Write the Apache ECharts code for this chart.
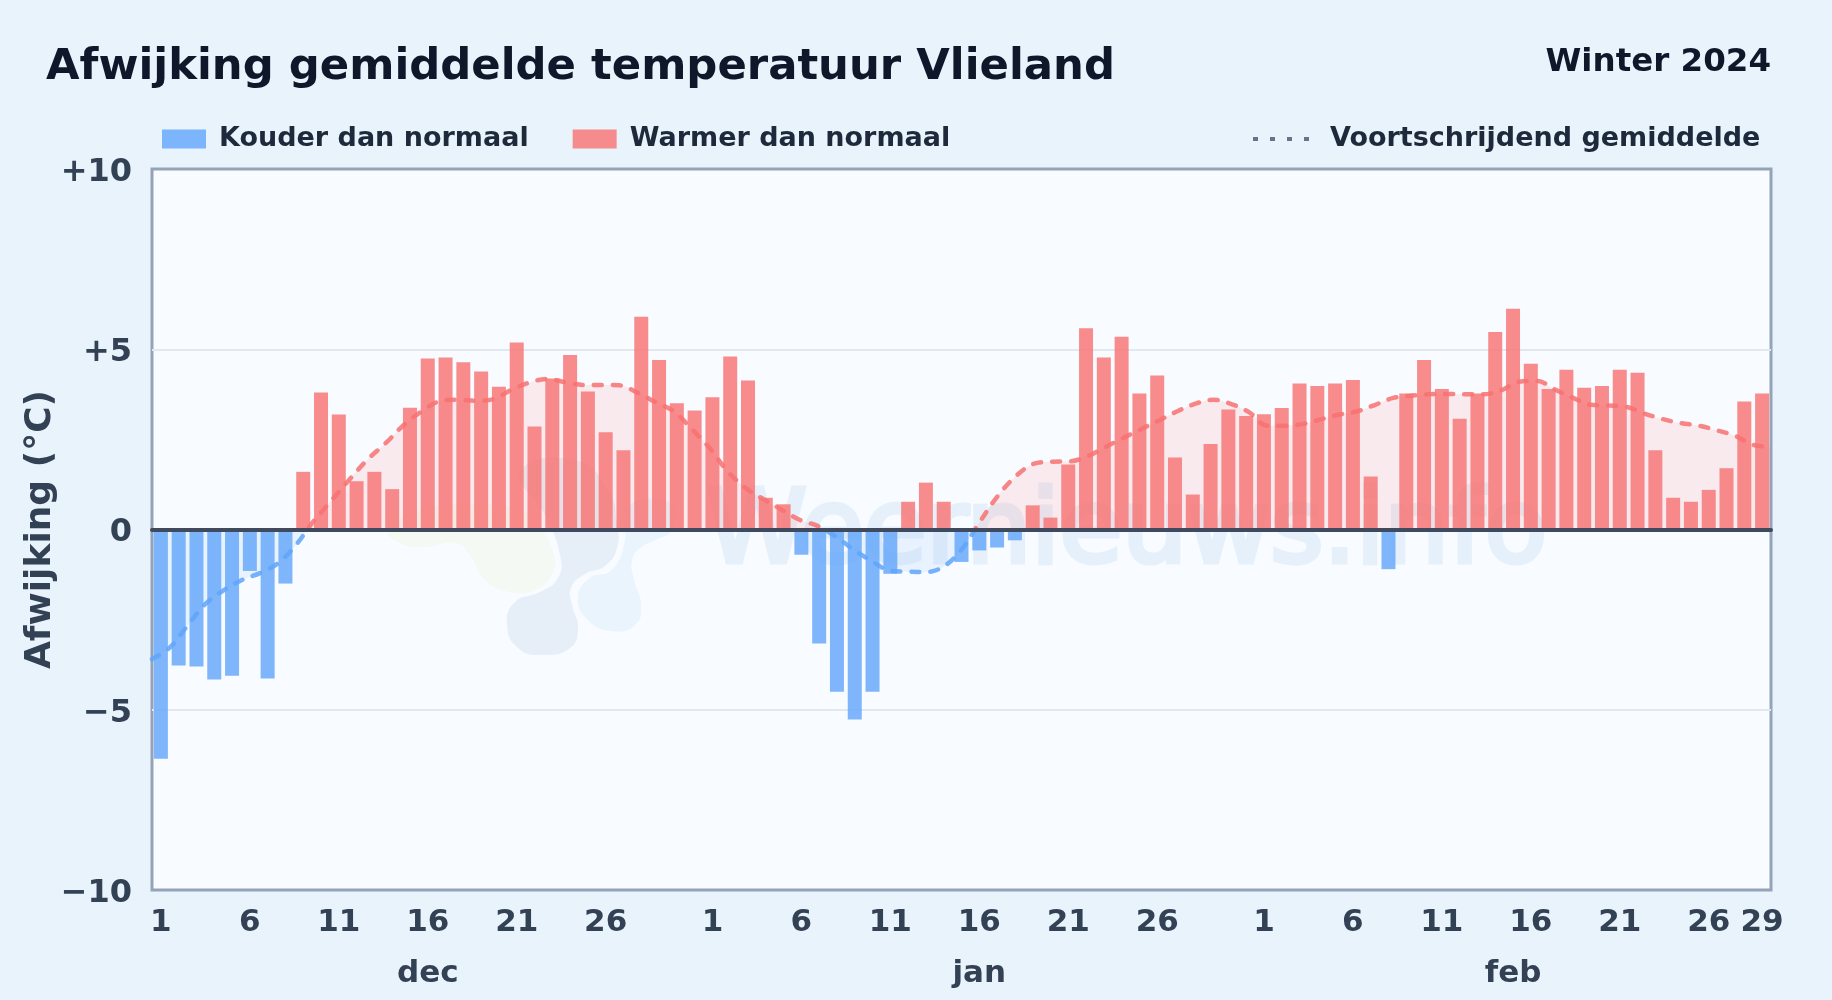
<!DOCTYPE html>
<html>
<head>
<meta charset="utf-8">
<style>html,body{margin:0;padding:0;background:#e9f3fc}#c{width:1832px;height:1000px}</style>
<script src="https://cdn.jsdelivr.net/npm/echarts@6/dist/echarts.min.js"></script>
</head>
<body>
<div id="c"></div>
<script>
const dayLabels = [];
[31, 31, 29].forEach(n => { for (let d = 1; d <= n; d++) dayLabels.push(String(d)); });
const monthAt = { 15: 'dec', 46: 'jan', 76: 'feb' };
const monthLabels = dayLabels.map((_, i) => monthAt[i] || '');

const anomaly = [
  -6.36,-3.77,-3.8,-4.16,-4.06,-1.15,-4.13,-1.5,1.6,3.8,3.19,1.34,1.6,1.12,3.38,4.74,4.77,4.64,4.38,3.96,5.19,2.86,4.19,4.84,3.83,2.7,2.2,5.9,4.7,3.5,3.3,
  3.67,4.8,4.13,0.88,0.7,-0.7,-3.16,-4.5,-5.27,-4.5,-1.23,0.77,1.3,0.77,-0.9,-0.58,-0.5,-0.3,0.67,0.33,1.8,5.58,4.77,5.35,3.77,4.27,2,0.97,2.37,3.33,3.15,
  3.2,3.37,4.05,3.98,4.05,4.15,1.47,-1.1,3.77,4.7,3.9,3.07,3.77,5.48,6.12,4.6,3.9,4.43,3.93,3.98,4.43,4.35,2.2,0.88,0.77,1.1,1.7,3.55,3.77
];
const movingAverage = [
  -3.6,-3.27,-2.65,-2.05,-1.68,-1.4,-1.21,-0.94,-0.43,0.24,0.82,1.4,1.95,2.4,2.9,3.28,3.56,3.6,3.57,3.62,3.88,4.08,4.18,4.08,
  4.01,4.01,4.0,3.79,3.53,3.28,2.79,2.26,1.61,1.15,0.84,0.55,0.27,0.1,-0.19,-0.56,-0.87,-1.14,-1.17,-1.18,-1.03,-0.56,0.2,
  0.92,1.47,1.82,1.88,1.89,2.03,2.29,2.54,2.79,3.03,3.28,3.49,3.6,3.48,3.25,2.88,2.88,2.93,3.06,3.19,3.28,3.46,
  3.65,3.71,3.75,3.76,3.75,3.75,3.86,4.1,4.12,3.88,3.65,3.46,3.44,3.4,3.21,3.06,2.95,2.88,2.75,2.6,2.35,2.29
];
const coldValues = anomaly.map(v => v < 0 ? v : null);
const warmValues = anomaly.map(v => v >= 0 ? v : null);
const yTicks = { '10': '+10', '5': '+5', '0': '0', '-5': '\u22125', '-10': '\u221210' };

const FONT = '"DejaVu Sans"';
const dotsIcon = 'path://M0 0h5v4H0zM17 0h5v4H17zM34 0h5v4H34zM51 0h5v4H51z';
const legendText = { fontFamily: FONT, fontWeight: 'bold', fontSize: 27, color: '#1e293b' };

const splitFill = (warm, cold) => ({
  type: 'linear', global: true, x: 0, y: 169, x2: 0, y2: 890,
  colorStops: [{ offset: 0, color: warm }, { offset: 0.5, color: warm }, { offset: 0.5, color: cold }, { offset: 1, color: cold }]
});

const chart = echarts.init(document.getElementById('c'), null, { renderer: 'canvas' });
chart.setOption({
  animation: false,
  backgroundColor: '#e9f3fc',
  title: [
    { text: 'Afwijking gemiddelde temperatuur Vlieland', left: 41, top: 41,
      textStyle: { fontFamily: FONT, fontWeight: 'bold', fontSize: 43.35, color: '#0f172a' } },
    { text: 'Winter 2024', right: 56, top: 41,
      textStyle: { fontFamily: FONT, fontWeight: 'bold', fontSize: 32.5, color: '#0f172a' } }
  ],
  legend: [
    { left: 157, top: 120.5, itemWidth: 44, itemHeight: 19, itemGap: 44, selectedMode: false,
      textStyle: Object.assign({ padding: [0, 0, 0, 8] }, legendText),
      data: [{ name: 'Kouder dan normaal', icon: 'rect' }, { name: 'Warmer dan normaal', icon: 'rect' }] },
    { left: 1248, top: 120.5, itemWidth: 56, itemHeight: 4, selectedMode: false,
      textStyle: Object.assign({ padding: [0, 0, 0, 16] }, legendText),
      data: [{ name: 'Voortschrijdend gemiddelde', icon: dotsIcon, itemStyle: { color: '#64748b', opacity: 1 } }] }
  ],
  grid: { left: 152, right: 61, top: 169, bottom: 110, show: true, backgroundColor: '#f8fbff', borderColor: '#94a3b8', borderWidth: 3 },
  xAxis: [
    { type: 'category', data: dayLabels, boundaryGap: true, position: 'bottom',
      axisLine: { show: false, onZero: false }, axisTick: { show: false }, splitLine: { show: false },
      axisLabel: { interval: (i, v) => i === dayLabels.length - 1 || ((+v - 1) % 5 === 0 && +v <= 26),
        margin: 17, fontFamily: FONT, fontWeight: 'bold', fontSize: 31, color: '#334155' } },
    { type: 'category', data: dayLabels, boundaryGap: false, z: 8,
      axisLine: { show: true, onZero: true, lineStyle: { color: '#3f4a5e', width: 4 } },
      axisTick: { show: false }, axisLabel: { show: false }, splitLine: { show: false } },
    { type: 'category', data: monthLabels, boundaryGap: true, position: 'bottom', offset: 52,
      axisLine: { show: false, onZero: false }, axisTick: { show: false }, splitLine: { show: false },
      axisLabel: { interval: 0, margin: 16, fontFamily: FONT, fontWeight: 'bold', fontSize: 31, color: '#334155' } }
  ],
  yAxis: {
    type: 'value', min: -10, max: 10, interval: 5,
    name: 'Afwijking (\u00b0C)', nameLocation: 'middle', nameGap: 93.5, nameMoveOverlap: false,
    nameTextStyle: { fontFamily: FONT, fontWeight: 'bold', fontSize: 36, color: '#334155' },
    axisLine: { show: false }, axisTick: { show: false },
    splitLine: { showMinLine: false, showMaxLine: false, lineStyle: { color: '#e2e8f0', width: 2 } },
    axisLabel: { formatter: v => '{t|' + yTicks[String(v)] + '}', margin: 20,
      rich: { t: { padding: [7, 0, 0, 0], fontFamily: FONT, fontWeight: 'bold', fontSize: 32, color: '#334155' } } }
  },
  graphic: { elements: [
    { type: 'polygon', z: 1, silent: true, shape: { smooth: 0.5, smoothConstraint: false, points: [[388,530],[400,543],[425,547],[455,543],[470,555],[485,580],[510,592],[535,590],[553,572],[553,552],[538,525],[520,510],[470,505],[420,510]] }, style: { fill: '#f5f9f3' } },
    { type: 'polygon', z: 1, silent: true, shape: { smooth: 0.5, smoothConstraint: false, points: [[507,625],[518,648],[542,655],[570,648],[578,628],[572,605],[571,588],[585,574],[605,566],[617,548],[617,525],[608,490],[575,460],[520,472],[545,515],[560,555],[558,578],[540,592],[515,602]] }, style: { fill: '#e6eff8' } },
    { type: 'polygon', z: 1, silent: true, shape: { smooth: 0.5, smoothConstraint: false, points: [[578,598],[588,620],[612,631],[635,625],[641,605],[634,580],[632,560],[640,548],[655,540],[672,530],[672,505],[640,500],[625,515],[625,540],[612,570],[590,578]] }, style: { fill: '#e9f4fd' } },
    { type: 'text', z: 1, silent: true, x: 706, y: 484, style: { text: 'Weernieuws.info', fontFamily: FONT, fontSize: 102, fill: '#e6f0fa', stroke: '#e6f0fa', lineWidth: 5 } }
  ] },
  series: [
    { name: 'Kouder dan normaal', type: 'bar', stack: 't', barWidth: 14, data: coldValues, z: 3,
      itemStyle: { color: '#60a5fa', opacity: 0.8 } },
    { name: 'Warmer dan normaal', type: 'bar', stack: 't', barWidth: 14, data: warmValues, z: 3,
      itemStyle: { color: '#f87171', opacity: 0.8 } },
    { name: 'Voortschrijdend gemiddelde', type: 'line', xAxisIndex: 1, data: movingAverage, z: 4,
      smooth: 0.35, showSymbol: false, symbol: 'none',
      itemStyle: { color: '#64748b' },
      lineStyle: { width: 4.5, type: [8, 11], cap: 'round', opacity: 0.85, color: splitFill('#f87171', '#60a5fa') },
      areaStyle: { opacity: 1, color: splitFill('rgba(248,113,113,0.12)', 'rgba(96,165,250,0.1)') } }
  ]
});
</script>
</body>
</html>
